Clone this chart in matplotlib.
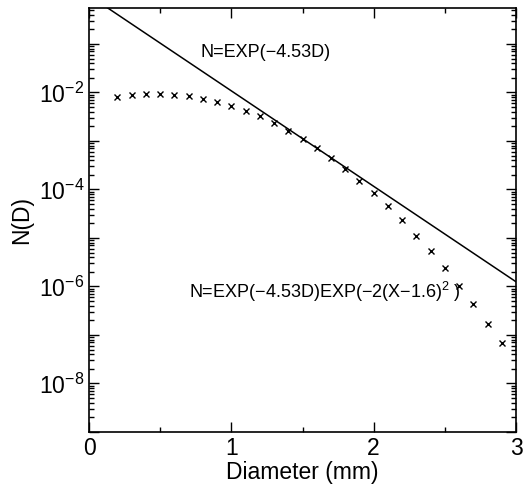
import numpy as np
import matplotlib
matplotlib.use('Agg')
from matplotlib import pyplot as plt
from matplotlib.ticker import LogLocator, FuncFormatter, FixedLocator, NullFormatter

# data
diam = [0.2, 0.3, 0.4, 0.5, 0.6, 0.7, 0.8, 0.9, 1.0, 1.1, 1.2, 1.3, 1.4, 1.5,
        1.6, 1.7, 1.8, 1.9, 2.0, 2.1, 2.2, 2.3, 2.4, 2.5, 2.6, 2.7, 2.8, 2.9]
n_pts = [8.0e-3, 8.8e-3, 9.2e-3, 9.2e-3, 8.9e-3, 8.3e-3, 7.4e-3, 6.4e-3,
         5.3e-3, 4.2e-3, 3.2e-3, 2.3e-3, 1.6e-3, 1.1e-3, 7.1e-4, 4.4e-4,
         2.7e-4, 1.5e-4, 8.5e-5, 4.5e-5, 2.3e-5, 1.1e-5, 5.3e-6, 2.4e-6,
         1.0e-6, 4.3e-7, 1.7e-7, 6.7e-8]
line_d = [0.0, 3.0]
line_n = [1.0, 1.25e-6]
x_ticks = [0, 1, 2, 3]
y_labels = [1e-2, 1e-4, 1e-6, 1e-8]

plt.rcParams['font.family'] = ['Liberation Sans', 'DejaVu Sans']
plt.rcParams['mathtext.fontset'] = 'custom'
plt.rcParams['mathtext.rm'] = 'Liberation Sans'
plt.rcParams['mathtext.it'] = 'Liberation Sans:italic'
plt.rcParams['mathtext.default'] = 'regular'

fig = plt.figure(figsize=(5.28, 4.88), dpi=100)
ax = fig.add_axes([89/528, 1-432/488, (516-89)/528, (432-8)/488])

ax.plot(line_d, line_n, c='black', lw=1.1)
ax.plot(diam, n_pts, ls='none', marker='x', ms=4, mew=1.0, c='black')

ax.set_yscale('log')
ax.set_xlim(0, 3)
ax.set_ylim(1e-9, 0.55)

ax.xaxis.set_major_locator(FixedLocator(x_ticks))
ax.xaxis.set_minor_locator(FixedLocator([0.5, 1.5, 2.5]))
ax.yaxis.set_major_locator(LogLocator(base=10, numticks=20))
ax.yaxis.set_minor_locator(LogLocator(base=10, subs=np.arange(2, 10), numticks=20))
ax.yaxis.set_minor_formatter(NullFormatter())

def ylab(v, pos):
    e = int(round(np.log10(v)))
    if 10.0**e in y_labels:
        return r'$10^{%d}$' % e
    return ''
ax.yaxis.set_major_formatter(FuncFormatter(ylab))

ax.tick_params(which='both', direction='in', top=True, right=True, labelsize=16.5, width=1.0)
ax.tick_params(which='major', length=7)
ax.tick_params(which='minor', length=3.5)
for s in ax.spines.values():
    s.set_linewidth(1.2)

ax.set_xlabel('Diameter (mm)', fontsize=16.5, labelpad=1)
ax.set_ylabel('N(D)', fontsize=16.5, labelpad=4)

ax.text(0.262, 0.894, 'N=EXP(\u22124.53D)', fontsize=13, va='center', ha='left',
        transform=ax.transAxes)
ax.text(0.234, 0.33, 'N=EXP(\u22124.53D)EXP(\u22122(X\u22121.6)$^{2}$ )', fontsize=13,
        va='center', ha='left', transform=ax.transAxes)

fig.savefig('out.png', dpi=100)
